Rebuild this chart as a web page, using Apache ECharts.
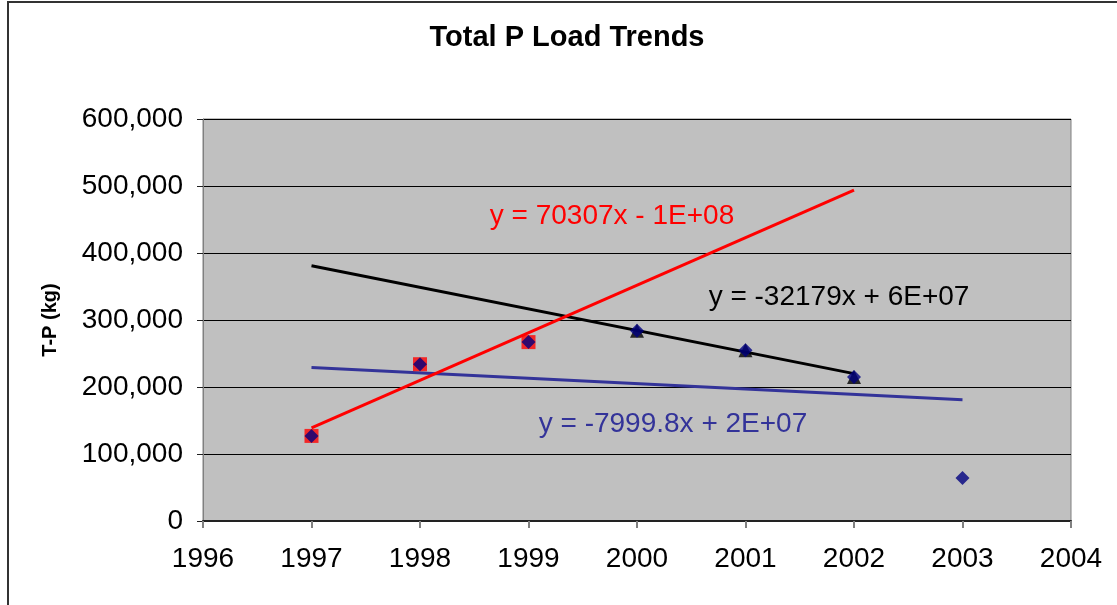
<!DOCTYPE html>
<html>
<head>
<meta charset="utf-8">
<title>Total P Load Trends</title>
<script src="https://cdn.jsdelivr.net/npm/echarts@6/dist/echarts.min.js"></script>
<style>
  html, body { margin: 0; padding: 0; background: #fff; }
  #main { width: 1117px; height: 605px; }
</style>
</head>
<body>
<div id="main"></div>
<script>
// yearly T-P loads (kg)
var years = [1997, 1998, 1999, 2000, 2001, 2002, 2003];
var loads = [127000, 234000, 267000, 284000, 255000, 215000, 64000];

// subsets used for the two short-period fits
var earlyYears = [1997, 1998, 1999];
var earlyLoads = [127000, 234000, 267000];
var lateYears = [2000, 2001, 2002];
var lateLoads = [284000, 255000, 215000];

// trendline ends as drawn (Excel fits, forecast to 2002 / back to 1997)
var redTrend = [[1997, 139000], [2002, 494000]];
var blackTrend = [[1997, 381000], [2002, 220000]];
var blueTrend = [[1997, 229000], [2003, 181000]];

var yTicks = [0, 100000, 200000, 300000, 400000, 500000, 600000];

function pairs(xs, ys) {
    return xs.map(function (x, i) { return [x, ys[i]]; });
}

var chart = echarts.init(document.getElementById('main'));

var option = {
    animation: false,
    textStyle: { fontFamily: 'Liberation Sans, Arial, sans-serif' },
    grid: {
        left: 203, right: 46, top: 119, bottom: 84,
        show: true,
        backgroundColor: '#C0C0C0',
        borderColor: '#808080',
        borderWidth: 1
    },
    xAxis: {
        type: 'value',
        min: 1996, max: 2004, interval: 1,
        axisLine: { show: true, lineStyle: { color: '#222', width: 2 } },
        axisTick: { show: true, length: 7, lineStyle: { color: '#808080', width: 2 } },
        axisLabel: {
            color: '#000', fontSize: 28, margin: 24,
            formatter: function (v) { return String(v); }
        },
        splitLine: { show: false }
    },
    yAxis: {
        type: 'value',
        min: yTicks[0], max: yTicks[yTicks.length - 1], interval: 100000,
        axisLine: { show: true, lineStyle: { color: '#808080', width: 1 } },
        axisTick: { show: true, length: 6, lineStyle: { color: '#222', width: 1 } },
        axisLabel: {
            color: '#000', fontSize: 28, margin: 20,
            formatter: function (v) { return v.toLocaleString('en-US'); }
        },
        splitLine: { show: true, lineStyle: { color: '#000', width: 1 } }
    },
    series: [
        {
            type: 'line', data: blueTrend, symbol: 'none', z: 2,
            lineStyle: { color: '#333399', width: 3 }
        },
        {
            type: 'line', data: blackTrend, symbol: 'none', z: 2,
            lineStyle: { color: '#000000', width: 3 }
        },
        {
            type: 'line', data: redTrend, symbol: 'none', z: 2,
            lineStyle: { color: '#FF0000', width: 3 }
        },
        {
            type: 'scatter', data: pairs(earlyYears, earlyLoads), z: 3,
            symbol: 'rect', symbolSize: 14,
            itemStyle: { color: '#FF0000' }
        },
        {
            type: 'scatter', data: pairs(lateYears, lateLoads), z: 3,
            symbol: 'triangle', symbolSize: 14,
            itemStyle: { color: '#000000' }
        },
        {
            type: 'scatter', data: pairs(years, loads), z: 4,
            symbol: 'diamond', symbolSize: 14,
            itemStyle: { color: '#000080' }
        }
    ],
    graphic: [
        {
            type: 'rect', silent: true,
            shape: { x: 8, y: 2, width: 1400, height: 900 },
            style: { fill: 'none', stroke: '#333', lineWidth: 2 }
        },
        {
            type: 'text', x: 567, y: 38,
            style: {
                text: 'Total P Load Trends', fill: '#000',
                font: 'bold 29px "Liberation Sans", Arial, sans-serif',
                textAlign: 'center', textVerticalAlign: 'middle'
            }
        },
        {
            type: 'text', x: 50, y: 320, rotation: Math.PI / 2,
            style: {
                text: 'T-P (kg)', fill: '#000',
                font: 'bold 20px "Liberation Sans", Arial, sans-serif',
                textAlign: 'center', textVerticalAlign: 'middle'
            }
        },
        {
            type: 'text', x: 612, y: 216,
            style: {
                text: 'y = 70307x - 1E+08', fill: '#FF0000',
                font: '28px "Liberation Sans", Arial, sans-serif',
                textAlign: 'center', textVerticalAlign: 'middle'
            }
        },
        {
            type: 'text', x: 839, y: 297,
            style: {
                text: 'y = -32179x + 6E+07', fill: '#000',
                font: '28px "Liberation Sans", Arial, sans-serif',
                textAlign: 'center', textVerticalAlign: 'middle'
            }
        },
        {
            type: 'text', x: 673, y: 424,
            style: {
                text: 'y = -7999.8x + 2E+07', fill: '#333399',
                font: '28px "Liberation Sans", Arial, sans-serif',
                textAlign: 'center', textVerticalAlign: 'middle'
            }
        }
    ]
};

chart.setOption(option);
</script>
</body>
</html>
